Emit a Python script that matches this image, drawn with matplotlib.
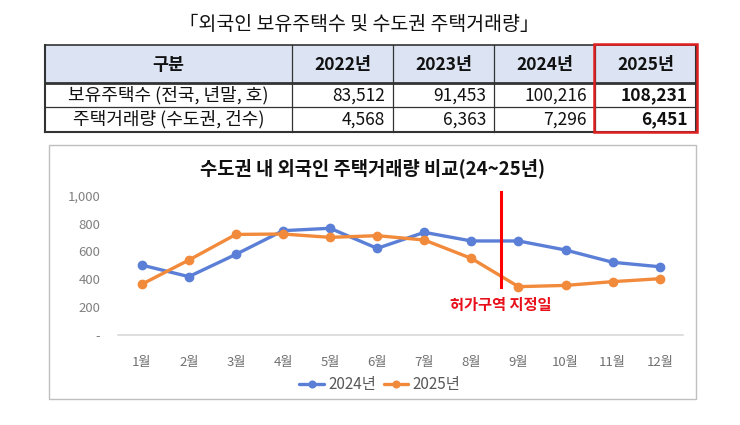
import matplotlib
matplotlib.use("Agg")
import matplotlib.pyplot as plt
from matplotlib.patches import Rectangle

plt.rcParams['font.family'] = ['Noto Sans CJK KR', 'DejaVu Sans']

# ---------------- data ----------------
main_title = "「외국인 보유주택수 및 수도권 주택거래량」"
table_header = ['구분', '2022년', '2023년', '2024년', '2025년']
row_labels = ['보유주택수 (전국, 년말, 호)', '주택거래량 (수도권, 건수)']
holdings = [83512, 91453, 100216, 108231]
transactions = [4568, 6363, 7296, 6451]

chart_title = "수도권 내 외국인 주택거래량 비교(24~25년)"
months = ['1월', '2월', '3월', '4월', '5월', '6월', '7월', '8월', '9월', '10월', '11월', '12월']
v2024 = [502, 419, 579, 749, 766, 622, 737, 675, 675, 610, 522, 490]
v2025 = [364, 538, 722, 725, 701, 713, 682, 550, 347, 356, 383, 404]
series_names = ['2024년', '2025년']
yticks = [0, 200, 400, 600, 800, 1000]
ytick_labels = ['-', '200', '400', '600', '800', '1,000']
marker_x = 8.63          # position of the designation line (month units)
marker_y = [347, 1024]
marker_label = '허가구역 지정일'
marker_label_y = 215

W, H = 740, 425
fig = plt.figure(figsize=(W / 100, H / 100), dpi=100)
fig.patch.set_facecolor('white')

# overlay axes in pixel coordinates
ov = fig.add_axes([0, 0, 1, 1])
ov.set_xlim(0, W)
ov.set_ylim(H, 0)
ov.axis('off')

# main title
ov.text(359, 24, main_title, ha='center', va='center', fontsize=14, color='#111111')

# table geometry
col_x = [45, 292, 393, 494, 595, 696]
row_y = [45, 82.7, 106.7, 131.7]
dark = '#333333'

ov.add_patch(Rectangle((col_x[0], row_y[0]), col_x[-1] - col_x[0], row_y[1] - row_y[0],
                       facecolor='#DCE4F4', edgecolor='none', zorder=1))
# horizontal lines
ov.plot([col_x[0], col_x[-1]], [row_y[0], row_y[0]], color=dark, lw=1.2, zorder=3)
ov.plot([col_x[0], col_x[-1]], [row_y[1], row_y[1]], color=dark, lw=2.0, zorder=3)
ov.plot([col_x[0], col_x[-1]], [row_y[2], row_y[2]], color=dark, lw=0.9, zorder=3)
ov.plot([col_x[0], col_x[-1]], [row_y[3], row_y[3]], color=dark, lw=1.5, zorder=3)
# vertical lines
for i, xx in enumerate(col_x):
    lw = 1.5 if i in (0, len(col_x) - 1) else 0.9
    ov.plot([xx, xx], [row_y[0], row_y[3]], color=dark, lw=lw, zorder=3)

# header text
for i, h in enumerate(table_header):
    cx = (col_x[i] + col_x[i + 1]) / 2
    ov.text(cx, (row_y[0] + row_y[1]) / 2 + 1, h, ha='center', va='center',
            fontsize=12.5, fontweight='bold', color='#111111', zorder=4)

rows = [holdings, transactions]
for r, (lab, vals) in enumerate(zip(row_labels, rows)):
    cy = (row_y[r + 1] + row_y[r + 2]) / 2 + 0.5
    ov.text((col_x[0] + col_x[1]) / 2, cy, lab, ha='center', va='center',
            fontsize=13, color='#111111', zorder=4)
    for j, v in enumerate(vals):
        ov.text(col_x[j + 2] - 8, cy, f"{v:,}", ha='right', va='center', fontsize=12.5,
                color='#111111', fontweight='bold' if j == len(vals) - 1 else 'normal', zorder=4)

# red highlight box
ov.add_patch(Rectangle((593.5, 44), 103, 88, facecolor='none', edgecolor='#E02020',
                       lw=1.8, zorder=5))

# chart frame
ov.add_patch(Rectangle((48.5, 145), 647.5, 254, facecolor='none', edgecolor='#BFBFBF',
                       lw=1.0, zorder=1))
ov.text(373, 168, chart_title, ha='center', va='center', fontsize=13.5,
        fontweight='bold', color='#111111')

# ---------------- chart ----------------
ax_left, ax_right = 118.2, 683.3
ax_bottom, ax_top = 335, 195.7
ax = fig.add_axes([ax_left / W, (H - ax_bottom) / H, (ax_right - ax_left) / W,
                   (ax_bottom - ax_top) / H])
ax.set_facecolor('none')
x = list(range(1, len(months) + 1))
c24, c25 = '#5B7FD6', '#F28A3C'
ax.plot(x, v2024, color=c24, lw=2.4, marker='o', ms=6, label=series_names[0],
        solid_capstyle='round', zorder=3)
ax.plot(x, v2025, color=c25, lw=2.4, marker='o', ms=6, label=series_names[1],
        solid_capstyle='round', zorder=3)
ax.set_xlim(0.5, 12.5)
ax.set_ylim(0, 1000)
ax.set_xticks(x)
ax.set_xticklabels(months, fontsize=9.5, color='#707070')
ax.set_yticks(yticks)
ax.set_yticklabels(ytick_labels, fontsize=9.5, color='#808080')
ax.tick_params(axis='x', length=0, pad=15)
ax.tick_params(axis='y', length=0, pad=13)
for s in ['top', 'right', 'left']:
    ax.spines[s].set_visible(False)
ax.spines['bottom'].set_color('#D9D9D9')
ax.spines['bottom'].set_linewidth(1.2)

ax.plot([marker_x, marker_x], marker_y, color='#FF0000', lw=2.2, clip_on=False, zorder=4)
ax.text(marker_x, marker_label_y, marker_label, ha='center', va='center', fontsize=11,
        fontweight='bold', color='#E8101A')

leg = ax.legend(loc='center', bbox_to_anchor=((380 - ax_left) / (ax_right - ax_left),
                (ax_bottom - 385) / (ax_bottom - ax_top)), ncol=2, frameon=False,
                fontsize=11, handlelength=1.6, handletextpad=0.3, columnspacing=0.5,
                markerscale=0.8)
for t in leg.get_texts():
    t.set_color('#595959')

fig.savefig('out.png', dpi=100, facecolor='white')
